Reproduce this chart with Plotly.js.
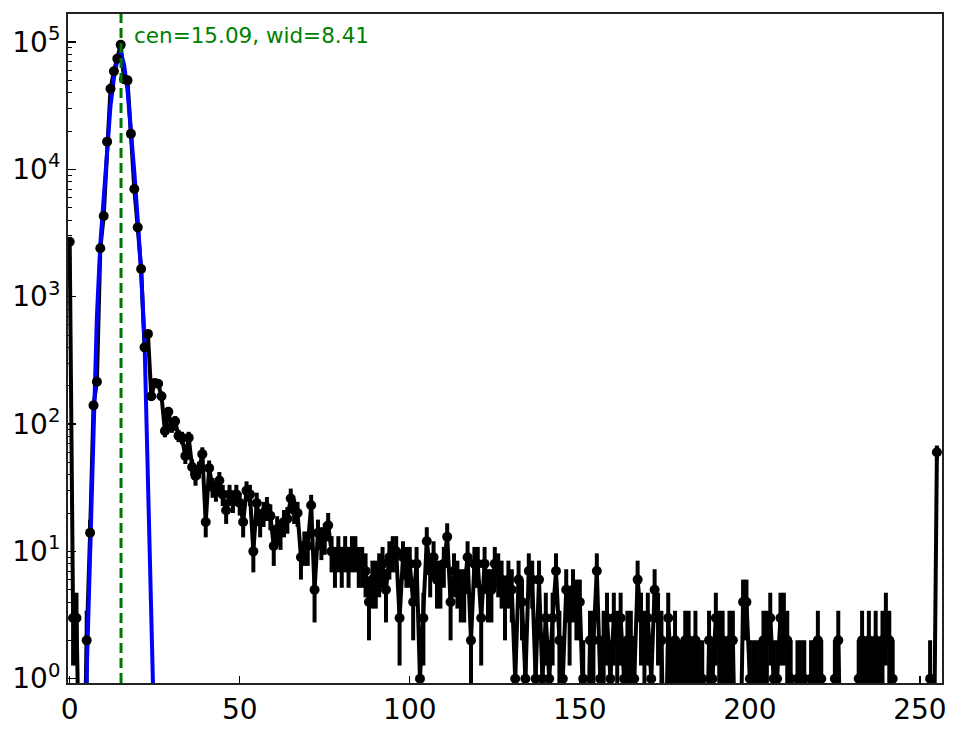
<!DOCTYPE html>
<html>
<head>
<meta charset="utf-8">
<script src="https://cdn.plot.ly/plotly-3.0.1.min.js"></script>
<style>
  html, body { margin: 0; padding: 0; background: #ffffff; }
  #chart { width: 964px; height: 729px; }
</style>
</head>
<body>
<div id="chart"></div>
<script>
// ---- data ----
// histogram counts for bins 0..255
const counts = [
  2700, 3, 3, 0, 0, 2, 14, 140, 215, 2400,
  4300, 16500, 43000, 59000, 74000, 95000, 51000, 50000, 19000, 7000,
  3500, 1650, 400, 510, 165, 210, 207, 165, 88, 125,
  95, 105, 81, 78, 56, 78, 46, 39, 44, 58,
  17, 45, 32, 30, 36, 28, 21, 28, 25, 28,
  24, 17, 30, 28, 10, 24, 17, 20, 22, 19,
  11, 15, 14, 17, 18, 26, 21, 20, 9, 11,
  11, 23, 5, 14, 12, 13, 16, 10, 8, 10,
  8, 10, 8, 10, 10, 8, 8, 7, 4, 6,
  6, 7, 8, 5, 9, 10, 10, 3, 9, 8,
  8, 4, 8, 1, 3, 12, 7, 9, 6, 6,
  8, 13, 4, 7, 6, 5, 5, 9, 2, 8,
  8, 3, 8, 5, 5, 8, 7, 6, 4, 6,
  5, 1, 6, 4, 1, 7, 6, 1, 6, 1,
  3, 1, 3, 7, 2, 1, 5, 3, 5, 4,
  4, 1, 0, 2, 2, 7, 1, 2, 3, 1,
  3, 2, 3, 1, 2, 2, 1, 6, 3, 2,
  3, 1, 5, 3, 2, 0, 3, 1, 2, 1,
  1, 2, 2, 1, 2, 1, 1, 0, 2, 1,
  3, 2, 2, 1, 2, 2, 0, 0, 4, 4,
  1, 1, 1, 1, 2, 2, 3, 1, 1, 3,
  3, 2, 1, 0, 1, 1, 1, 0, 1, 1,
  2, 1, 0, 0, 0, 1, 2, 0, 0, 0,
  0, 0, 1, 2, 1, 2, 1, 2, 1, 2,
  3, 2, 1, 0, 0, 0, 0, 0, 0, 0,
  0, 0, 0, 1, 0, 60
];
// gaussian fit curve at bin positions
const fitX = [4, 5, 6, 7, 8, 9, 10, 11, 12, 13, 14, 15, 16, 17, 18, 19, 20, 21, 22, 23, 24, 25];
const fitY = [0.13, 1.1, 14, 140, 700, 2600, 6300, 15800, 31600, 52000, 72000, 83000,
              66000, 41700, 20900, 9500, 4000, 1580, 450, 40, 3.2, 0.25];
const fitCen = 15.09;
const fitWid = 8.41;
const xTickVals = [0, 50, 100, 150, 200, 250];
const yTickVals = [1, 10, 100, 1000, 10000, 100000];
const yTickText = ['10<sup>0</sup>', '10<sup>1</sup>', '10<sup>2</sup>', '10<sup>3</sup>', '10<sup>4</sup>', '10<sup>5</sup>'];

// ---- derived plotting arrays ----
const bins = counts.map((c, i) => i);
const CLIP = 0.1; // empty bins drop below the axis, as in the log-clipped original
const yPlot = counts.map(c => (c > 0 ? c : CLIP));
const yErr = counts.map(c => (c > 0 ? Math.sqrt(c) : null));

const minorVals = [];
for (let k = 0; k <= 5; k++) {
  for (let m = 2; m <= 9; m++) minorVals.push(m * Math.pow(10, k));
}

const FONT = 'DejaVu Sans, Liberation Sans, sans-serif';

const traces = [
  {
    x: bins, y: yPlot, type: 'scatter', mode: 'lines',
    line: { color: '#000000', width: 4 },
    error_y: { type: 'data', array: yErr, visible: true, color: '#000000', thickness: 4, width: 0 },
    hoverinfo: 'skip', showlegend: false
  },
  {
    x: fitX, y: fitY, type: 'scatter', mode: 'lines',
    line: { color: '#0000ff', width: 4 },
    hoverinfo: 'skip', showlegend: false
  },
  {
    x: bins, y: yPlot, type: 'scatter', mode: 'markers',
    marker: { color: '#000000', size: 10 },
    hoverinfo: 'skip', showlegend: false
  }
];

const layout = {
  width: 964, height: 729,
  margin: { l: 68, r: 22, t: 14, b: 46, pad: 0 },
  paper_bgcolor: '#ffffff', plot_bgcolor: '#ffffff',
  font: { family: FONT, color: '#000000', size: 28 },
  showlegend: false,
  xaxis: {
    range: [-0.5, 256.5],
    tickmode: 'array', tickvals: xTickVals,
    ticks: 'inside', ticklen: 7, tickwidth: 1.3, tickcolor: '#000000',
    showline: true, linecolor: '#222222', linewidth: 2, mirror: true,
    showgrid: false, zeroline: false,
    tickfont: { family: FONT, size: 28, color: '#000000' }
  },
  yaxis: {
    type: 'log',
    range: [-0.034, 5.22],
    tickmode: 'array', tickvals: yTickVals, ticktext: yTickText,
    ticks: 'inside', ticklen: 8, tickwidth: 1.3, tickcolor: '#000000',
    minor: { tickmode: 'array', tickvals: minorVals, ticks: 'inside', ticklen: 4, tickwidth: 1, tickcolor: '#000000', showgrid: false },
    showline: true, linecolor: '#222222', linewidth: 2, mirror: true,
    showgrid: false, zeroline: false,
    tickfont: { family: FONT, size: 28, color: '#000000' }
  },
  shapes: [
    {
      type: 'line', xref: 'x', yref: 'paper',
      x0: fitCen, x1: fitCen, y0: 0, y1: 1,
      line: { color: '#007700', width: 3, dash: '10px,5px' },
      layer: 'above'
    }
  ],
  annotations: [
    {
      xref: 'x', yref: 'paper', x: 18.4, y: 0.968,
      xanchor: 'left', yanchor: 'middle',
      text: 'cen=' + fitCen.toFixed(2) + ', wid=' + fitWid.toFixed(2),
      showarrow: false,
      font: { family: FONT, size: 21.5, color: '#008000' }
    }
  ]
};

Plotly.newPlot('chart', traces, layout, { staticPlot: true, displayModeBar: false });
</script>
</body>
</html>
